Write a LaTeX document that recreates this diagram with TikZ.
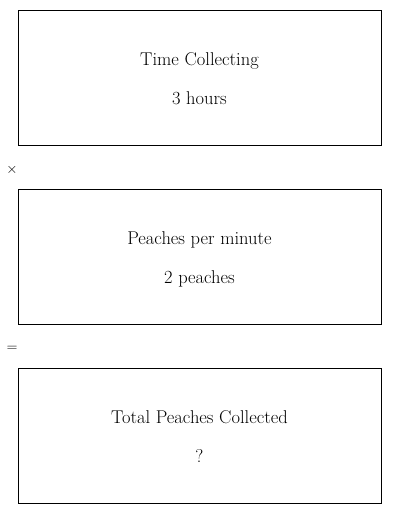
\documentclass[tikz,border=0pt]{standalone}
\begin{document}
\begin{tikzpicture}[x=1pt,y=-1pt,
  card/.style={draw=black,line width=0.8pt},
  lbl/.style={font=\fontsize{18.5}{21}\selectfont,inner sep=0pt,anchor=base},
  op/.style={font=\fontsize{14}{16}\selectfont,inner sep=0pt}]
\useasboundingbox (0,0) rectangle (400,514);
\node[card,minimum width=363pt,minimum height=135pt,anchor=north west] (b1) at (18,10) {};
\node[card,minimum width=363pt,minimum height=135pt,anchor=north west] (b2) at (18,189) {};
\node[card,minimum width=363pt,minimum height=135pt,anchor=north west] (b3) at (18,368) {};
\node[lbl] (t1) at (199.5,65.5) {Time Collecting};
\node[lbl] (v1) at (199.5,104) {3 hours};
\node[lbl] (t2) at (199.5,244.5) {Peaches per minute};
\node[lbl] (v2) at (199.5,283) {2 peaches};
\node[lbl] (t3) at (199.5,423.5) {Total Peaches Collected};
\node[lbl] (v3) at (199.5,462) {?};
\node[op] (times) at (12,170) {$\times$};
\node[op] (eq) at (12,349) {$=$};
\end{tikzpicture}
\end{document}
